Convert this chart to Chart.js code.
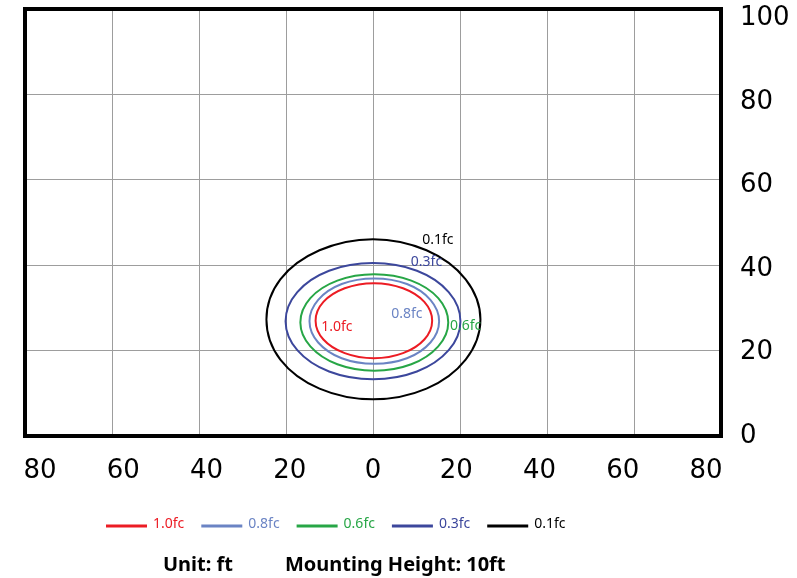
<!DOCTYPE html>
<html><head><meta charset="utf-8">
<style>html,body{margin:0;padding:0;background:#fff}#wrap{width:797px;height:578px;position:relative}</style>
<script src="https://cdn.jsdelivr.net/npm/chart.js@4.4.1/dist/chart.umd.min.js"></script>
</head><body><div id="wrap"><canvas id="c"></canvas></div>
<script>
// ---- data ----
const contourNames = ['1.0fc', '0.8fc', '0.6fc', '0.3fc', '0.1fc'];
const contour10 = [[13.6,27.0],[11.8,31.4],[6.9,34.6],[0.2,35.8],[-6.5,34.6],[-11.4,31.4],[-13.2,27.0],[-11.4,22.6],[-6.5,19.4],[0.2,18.2],[6.9,19.4],[11.8,22.6]];
const contour08 = [[15.2,26.9],[13.2,31.9],[7.8,35.6],[0.3,36.9],[-7.2,35.6],[-12.6,31.9],[-14.6,26.9],[-12.6,21.9],[-7.2,18.2],[0.3,16.9],[7.8,18.2],[13.2,21.9]];
const contour06 = [[17.3,26.6],[15.0,32.3],[8.8,36.4],[0.3,37.9],[-8.2,36.4],[-14.4,32.3],[-16.7,26.6],[-14.4,21.0],[-8.2,16.8],[0.3,15.3],[8.8,16.8],[15.0,21.0]];
const contour03 = [[20.1,26.9],[17.4,33.7],[10.1,38.7],[0.0,40.5],[-10.1,38.7],[-17.4,33.7],[-20.1,26.9],[-17.4,20.1],[-10.1,15.1],[0.0,13.3],[10.1,15.1],[17.4,20.1]];
const contour01 = [[24.7,27.3],[21.3,36.7],[12.3,43.5],[0.0,46.1],[-12.3,43.5],[-21.3,36.7],[-24.5,27.3],[-21.3,17.9],[-12.3,11.1],[0.0,8.6],[12.3,11.1],[21.3,17.9]];
const labelX = [-8.3, 7.8, 21.3, 12.3, 14.9];
const labelY = [25.5, 28.6, 25.8, 40.7, 46.0];
const xTickValues = [-80, -60, -40, -20, 0, 20, 40, 60, 80];
const yTickValues = [0, 20, 40, 60, 80, 100];
const footerTexts = ['Unit: ft', 'Mounting Height: 10ft'];

// ---- styles ----
const colors = ['#ec1c24', '#6b84c4', '#27a646', '#3c479c', '#000000'];
const contours = [contour10, contour08, contour06, contour03, contour01];

const closeContours = {
  id: 'closeContours',
  afterDatasetUpdate(chart, args) {
    const line = args.meta.dataset;
    if (line) { line._loop = true; line._fullLoop = true; }
  }
};

const decor = {
  id: 'decor',
  afterDatasetsDraw(chart) {
    const {ctx, chartArea: a, scales} = chart;
    const x = scales.x, y = scales.y;
    ctx.save();
    ctx.font = '14px "Noto Sans"';
    ctx.textAlign = 'center'; ctx.textBaseline = 'middle';
    contourNames.forEach((n, i) => {
      ctx.fillStyle = colors[i];
      ctx.fillText(n, x.getPixelForValue(labelX[i]), y.getPixelForValue(labelY[i]));
    });
    ctx.lineWidth = 4; ctx.strokeStyle = '#000';
    ctx.strokeRect(a.left, a.top, a.right - a.left, a.bottom - a.top);
    // legend
    let lx = 106;
    ctx.textAlign = 'left'; ctx.textBaseline = 'alphabetic';
    contourNames.forEach((n, i) => {
      ctx.fillStyle = colors[i];
      ctx.fillRect(lx, 524.5, 41, 3);
      ctx.fillText(n, lx + 47, 528);
      lx += 47 + ctx.measureText(n).width + 17;
    });
    ctx.font = 'bold 20px "Noto Sans"'; ctx.fillStyle = '#000';
    ctx.fillText(footerTexts[0], 163, 571);
    ctx.fillText(footerTexts[1], 285, 571);
    ctx.restore();
  }
};

const gridStyle = {color: '#9d9d9d', lineWidth: 1, drawTicks: false};
const setTicks = vals => s => { s.ticks = vals.map(v => ({value: v})); };
const noPad = s => { s.paddingTop = 0; s.paddingBottom = 0; s.paddingLeft = 0; s.paddingRight = 0; };

new Chart(document.getElementById('c'), {
  type: 'line',
  data: {
    datasets: contours.map((c, i) => ({
      label: contourNames[i],
      data: c.map(p => ({x: p[0], y: p[1]})),
      borderColor: colors[i],
      backgroundColor: colors[i],
      borderWidth: 2,
      pointRadius: 0,
      tension: 0.36,
      fill: false,
      xAxisID: 'x', yAxisID: 'y'
    }))
  },
  options: {
    responsive: true,
    maintainAspectRatio: false,
    animation: false,
    layout: {padding: {left: 25, top: 9, right: 0, bottom: 0}},
    plugins: {legend: {display: false}, title: {display: false}, tooltip: {enabled: false}},
    scales: {
      x: {type: 'linear', min: -80, max: 80, position: 'bottom', afterBuildTicks: setTicks(xTickValues),
          ticks: {display: false}, grid: gridStyle, border: {display: false},
          afterFit: s => { s.height = 0; noPad(s); }},
      xLab: {type: 'linear', min: -83.6, max: 83.6, position: 'bottom', afterBuildTicks: setTicks(xTickValues),
          ticks: {padding: 20, font: {family: 'DejaVu Sans', size: 26}, color: '#000', maxRotation: 0, autoSkip: false,
                  callback: v => String(Math.abs(v))},
          grid: {display: false, drawTicks: false}, border: {display: false},
          afterFit: s => { s.height = 142; noPad(s); }},
      y: {type: 'linear', min: 0, max: 100, position: 'right', afterBuildTicks: setTicks(yTickValues),
          ticks: {display: false}, grid: gridStyle, border: {display: false},
          afterFit: s => { s.width = 0; noPad(s); }},
      yLab: {type: 'linear', min: 0, max: 102.2, position: 'right', afterBuildTicks: setTicks(yTickValues),
          ticks: {padding: 19, font: {family: 'DejaVu Sans', size: 26}, color: '#000', autoSkip: false},
          grid: {display: false, drawTicks: false}, border: {display: false},
          afterFit: s => { s.width = 76; noPad(s); }}
    }
  },
  plugins: [closeContours, decor]
});
</script></body></html>
